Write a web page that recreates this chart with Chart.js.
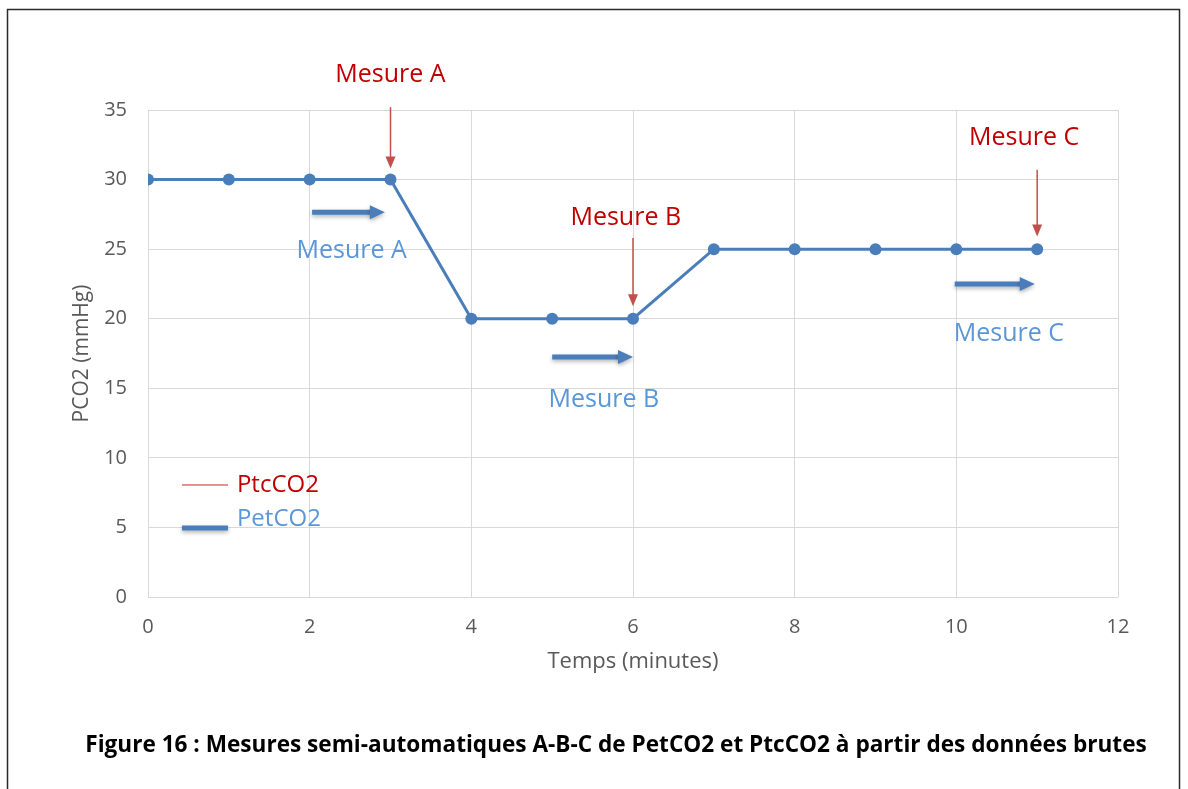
<!DOCTYPE html>
<html>
<head>
<meta charset="utf-8">
<script src="https://cdn.jsdelivr.net/npm/chart.js@4/dist/chart.umd.min.js"></script>
<style>
  html, body { margin: 0; background: #fff; }
  #wrap { width: 1188px; height: 789px; position: relative; }
</style>
</head>
<body>
<div id="wrap"><canvas id="chart"></canvas></div>
<script>
const temps = [0, 1, 2, 3, 4, 5, 6, 7, 8, 9, 10, 11]
const petco2 = [30, 30, 30, 30, 20, 20, 20, 25, 25, 25, 25, 25]
const xTicks = [0, 2, 4, 6, 8, 10, 12]
const yTicks = [0, 5, 10, 15, 20, 25, 30, 35]

// annotations "Mesure A / B / C"
const mesures = ['Mesure A', 'Mesure B', 'Mesure C']
// red (PtcCO2) arrows pointing down onto the curve
const ptcArrowX = [3, 6, 11]
const ptcArrowTop = [35.2, 25.8, 30.7]
const ptcArrowEnd = [30.8, 20.9, 25.9]
const ptcLabelX = [3, 5.91, 10.84]
const ptcLabelY = [37.5, 27.25, 33]
// blue (PetCO2) horizontal arrows
const petArrowStart = [2.03, 5.0, 9.98]
const petArrowEnd = [2.93, 6.0, 10.97]
const petArrowY = [27.65, 17.25, 22.5]
const petLabelX = [2.52, 5.64, 10.65]
const petLabelY = [24.9, 14.15, 18.9]

const legendNames = ['PtcCO2', 'PetCO2']
const legendY = [8.05, 4.95]

const caption = 'Figure 16 : Mesures semi-automatiques A-B-C de PetCO2 et PtcCO2 à partir des données brutes'

const lineCokir = '#4a7ebb'
const blueTextCokir = '#5b96d6'
const redTextCokir = '#c00000'
const redArrowCokir = '#c0504d'
const gridCokir = '#d9d9d9'
const tickCokir = '#595959'

const fontFamily = '"Open Sans", sans-serif'

const drawArrowHead = (ctx, x, y, dir, len, half) => {
  ctx.beginPath()
  if (dir === 'down') {
    ctx.moveTo(x, y)
    ctx.lineTo(x - half, y - len)
    ctx.lineTo(x + half, y - len)
  } else {
    ctx.moveTo(x, y)
    ctx.lineTo(x - len, y - half)
    ctx.lineTo(x - len, y + half)
  }
  ctx.closePath()
  ctx.fill()
}

const annotationPlugin = {
  id: 'annotations',
  beforeDraw(chart) {
    const ctx = chart.ctx
    ctx.save()
    ctx.fillStyle = '#fff'
    ctx.fillRect(0, 0, chart.width, chart.height)
    ctx.strokeStyle = '#2b2b2b'
    ctx.lineWidth = 1.5
    ctx.strokeRect(7.5, 9.5, 1172, 820)
    ctx.restore()
  },
  afterDatasetsDraw(chart) {
    const ctx = chart.ctx
    const xs = chart.scales.x
    const ys = chart.scales.y
    ctx.save()
    ctx.textAlign = 'center'
    ctx.textBaseline = 'middle'

    // red arrows and labels
    mesures.forEach((m, i) => {
      const x = xs.getPixelForValue(ptcArrowX[i])
      const y0 = ys.getPixelForValue(ptcArrowTop[i])
      const y1 = ys.getPixelForValue(ptcArrowEnd[i])
      ctx.strokeStyle = redArrowCokir
      ctx.fillStyle = redArrowCokir
      ctx.lineWidth = 1.5
      ctx.beginPath()
      ctx.moveTo(x, y0)
      ctx.lineTo(x, y1 - 10)
      ctx.stroke()
      drawArrowHead(ctx, x, y1, 'down', 12, 5)
      ctx.fillStyle = redTextCokir
      ctx.font = '25px ' + fontFamily
      ctx.fillText(m, xs.getPixelForValue(ptcLabelX[i]), ys.getPixelForValue(ptcLabelY[i]))
    })

    // blue arrows and labels
    mesures.forEach((m, i) => {
      const x0 = xs.getPixelForValue(petArrowStart[i])
      const x1 = xs.getPixelForValue(petArrowEnd[i])
      const y = ys.getPixelForValue(petArrowY[i])
      ctx.save()
      ctx.shadowColor = 'rgba(0,0,0,0.3)'
      ctx.shadowBlur = 4
      ctx.shadowOffsetY = 2
      ctx.strokeStyle = lineCokir
      ctx.fillStyle = lineCokir
      ctx.lineWidth = 5
      ctx.beginPath()
      ctx.moveTo(x0, y)
      ctx.lineTo(x1 - 12, y)
      ctx.stroke()
      drawArrowHead(ctx, x1, y, 'right', 15, 7)
      ctx.restore()
      ctx.fillStyle = blueTextCokir
      ctx.font = '25px ' + fontFamily
      ctx.fillText(m, xs.getPixelForValue(petLabelX[i]), ys.getPixelForValue(petLabelY[i]))
    })

    // legend
    const lx0 = xs.getPixelForValue(0.42)
    const lx1 = xs.getPixelForValue(0.99)
    const tx = xs.getPixelForValue(1.1)
    ctx.textAlign = 'left'
    ctx.font = '24px ' + fontFamily
    const redY = ys.getPixelForValue(legendY[0])
    ctx.strokeStyle = '#d02020'
    ctx.lineWidth = 1
    ctx.beginPath()
    ctx.moveTo(lx0, redY)
    ctx.lineTo(lx1, redY)
    ctx.stroke()
    ctx.fillStyle = redTextCokir
    ctx.fillText(legendNames[0], tx, redY)
    const blueY = ys.getPixelForValue(legendY[1])
    ctx.save()
    ctx.shadowColor = 'rgba(0,0,0,0.3)'
    ctx.shadowBlur = 4
    ctx.shadowOffsetY = 2
    ctx.strokeStyle = lineCokir
    ctx.lineWidth = 5
    ctx.beginPath()
    ctx.moveTo(lx0, blueY)
    ctx.lineTo(lx1, blueY)
    ctx.stroke()
    ctx.restore()
    ctx.fillStyle = blueTextCokir
    ctx.fillText(legendNames[1], tx, blueY - 9)

    // caption
    ctx.textAlign = 'center'
    ctx.fillStyle = '#000'
    ctx.font = 'bold 22.6px ' + fontFamily
    ctx.fillText(caption, 616, 746)
    ctx.restore()
  }
}

const ctx = document.getElementById('chart')
const chart = new Chart(ctx, {
  type: 'line',
  data: {
    datasets: [{
      label: 'PetCO2',
      data: temps.map((t, i) => ({ x: t, y: petco2[i] })),
      borderColor: lineCokir,
      backgroundColor: lineCokir,
      borderWidth: 3,
      pointRadius: 6,
      pointBorderWidth: 0,
      tension: 0
    }]
  },
  options: {
    responsive: true,
    maintainAspectRatio: false,
    animation: false,
    layout: { padding: { left: 0, right: 70, top: 110, bottom: 0 } },
    plugins: {
      legend: { display: false },
      tooltip: { enabled: false }
    },
    scales: {
      x: {
        type: 'linear',
        min: 0,
        max: 12,
        afterBuildTicks: (scale) => { scale.ticks = xTicks.map(v => ({ value: v })) },
        afterFit: (scale) => { scale.height = 192 },
        grid: { color: gridCokir, lineWidth: 1, drawTicks: false },
        border: { display: false },
        ticks: { color: tickCokir, font: { family: fontFamily, size: 20 }, padding: 18 },
        title: {
          display: true,
          text: 'Temps (minutes)',
          color: tickCokir,
          font: { family: fontFamily, size: 22 },
          padding: { top: 0, bottom: 114 }
        }
      },
      y: {
        min: 0,
        max: 35,
        afterBuildTicks: (scale) => { scale.ticks = yTicks.map(v => ({ value: v })) },
        afterFit: (scale) => { scale.width = 148 },
        grid: { color: gridCokir, lineWidth: 1, drawTicks: false },
        border: { display: false },
        ticks: { color: tickCokir, font: { family: fontFamily, size: 20 }, padding: 21 },
        title: {
          display: true,
          text: 'PCO2 (mmHg)',
          color: tickCokir,
          font: { family: fontFamily, size: 21 },
          padding: { top: 69, bottom: 0 }
        }
      }
    }
  },
  plugins: [annotationPlugin]
})
</script>
</body>
</html>
